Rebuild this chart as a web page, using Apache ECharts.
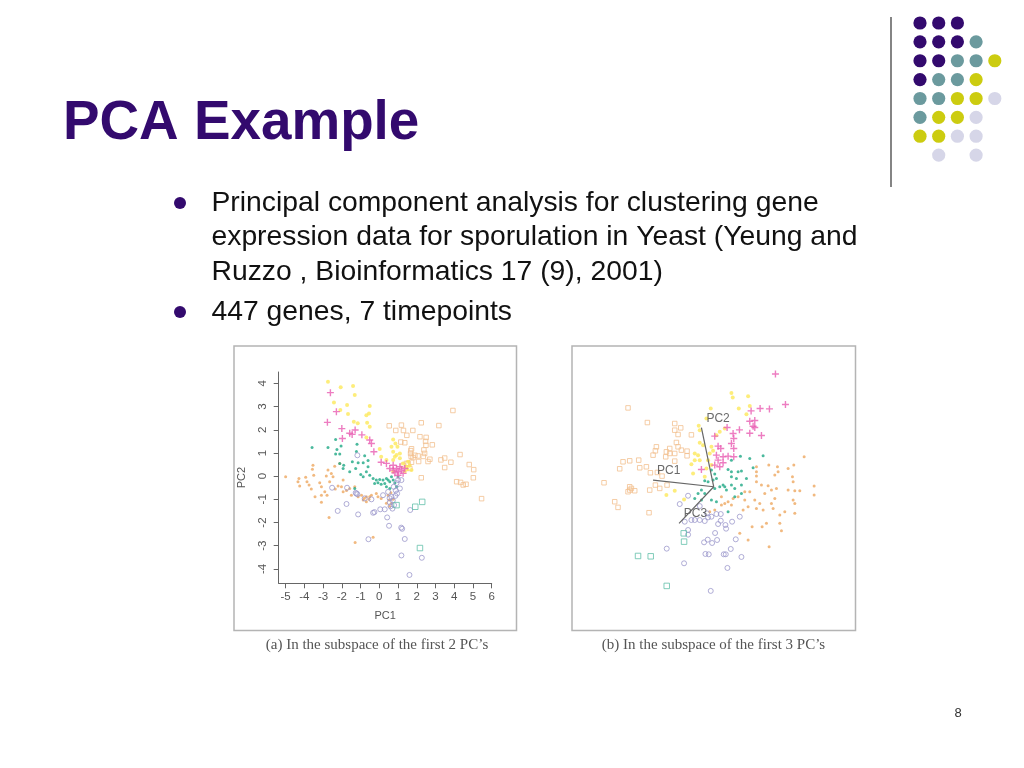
<!DOCTYPE html>
<html><head><meta charset="utf-8">
<style>html,body{margin:0;padding:0;background:#fff}#c{width:1024px;height:768px}</style>
<script src="https://cdn.jsdelivr.net/npm/echarts@6/dist/echarts.min.js"></script>
</head><body><div id="c"></div>
<script>
const titleText = 'PCA Example';
const bulletLines = ['Principal component analysis for clustering gene','expression data for sporulation in Yeast (Yeung and','Ruzzo , Bioinformatics 17 (9), 2001)','447 genes, 7 timepoints'];
const captionA = "(a) In the subspace of the first 2 PC’s";
const captionB = "(b) In the subspace of the first 3 PC’s";
const pageNumber = '8';
const xTicks = [-5,-4,-3,-2,-1,0,1,2,3,4,5,6];
const yTicks = [-4,-3,-2,-1,0,1,2,3,4];

const aTealSquares = [[2.29,-1.11],[1.92,-1.32],[2.17,-3.1],[0.92,-1.25]];
const aPurple = [[-1.22,-0.75],[-1.17,0.9],[-1.75,-1.2],[-2.22,-1.5],[-1.13,-1.65],[-0.33,-1.58],[-0.26,-1.55],[0.05,-1.43],[0.29,-1.43],[0.42,-1.78],[0.52,-2.14],[1.17,-2.22],[1.22,-2.27],[1.36,-2.71],[1.18,-3.42],[2.27,-3.52],[1.61,-4.26],[-0.58,-2.72],[1.65,-1.46],[-2.52,-0.5],[-1.72,-0.5],[-1.26,-0.72],[-1.17,-0.78],[-0.78,-0.96],[-0.42,-1.0],[0.2,-0.82],[0.7,-1.4],[0.79,-1.25],[0.56,-1.13],[0.65,-0.89],[0.86,-0.85],[0.77,-0.46],[1.0,-0.17],[1.1,-0.53],[0.47,-0.68],[0.92,-0.3],[1.18,-0.17],[0.6,-1.3],[0.72,-1.05],[0.88,-0.62],[0.55,-0.95],[0.95,-0.75]];
const aPaleSquares = [[3.93,2.83],[2.24,2.3],[3.18,2.18],[1.18,2.2],[0.53,2.17],[0.88,1.97],[1.29,1.97],[1.79,1.97],[1.47,1.76],[2.17,1.7],[2.5,1.67],[2.47,1.5],[1.15,1.47],[1.36,1.44],[2.49,1.33],[2.83,1.35],[1.72,1.18],[2.38,1.13],[1.67,0.98],[2.42,0.98],[2.07,0.87],[1.8,0.8],[2.7,0.73],[2.6,0.63],[2.1,0.63],[1.72,0.6],[1.54,0.55],[3.29,0.7],[3.49,0.78],[3.82,0.6],[3.49,0.37],[4.31,0.93],[4.8,0.5],[5.04,0.28],[5.02,-0.07],[4.13,-0.24],[4.34,-0.27],[4.48,-0.38],[4.63,-0.35],[5.46,-0.97],[2.24,-0.07],[1.9,0.9],[1.63,0.33],[1.27,0.47],[1.68,1.1],[1.7,0.85],[2.35,0.85],[1.45,0.55]];
const aOrangeDots = [[-5,-0.03],[-4.29,-0.1],[-4.34,-0.24],[-4.25,-0.42],[-3.93,-0.05],[-3.86,-0.24],[-3.75,-0.38],[-3.63,-0.55],[-3.54,0.47],[-3.57,0.3],[-3.5,0.04],[-3.18,-0.29],[-3.09,-0.46],[-3.43,-0.89],[-3.09,-0.82],[-3.09,-1.13],[-2.91,-0.67],[-2.79,-0.82],[-2.68,-1.78],[-2.74,0.26],[-2.56,0.11],[-2.38,0.43],[-2.11,0.55],[-2.47,-0.03],[-2.2,-0.42],[-2.02,-0.46],[-1.93,-0.67],[-1.58,-0.53],[-1.31,-0.46],[-0.95,-0.82],[-0.69,-0.89],[-0.86,-1.03],[-0.51,-0.89],[-0.16,-0.75],[0.1,-0.96],[-1.29,-2.86],[-0.33,-2.63],[-1.93,-0.17],[-2.65,-0.24],[-2.83,0.01],[-1.49,-0.82],[-1.13,-0.89],[-0.69,-1.1],[0.52,-1.03],[0.65,-1.17],[0.38,-1.17],[0.74,-1.0],[0.47,-0.82],[-0.07,-0.89],[-0.42,-0.82],[-1.75,-0.62],[-2.35,-0.55],[-0.8,-0.95],[-0.55,-1.0],[0.55,-1.3],[0.62,-0.72]];
const aGreenDots = [[-3.59,1.23],[-2.33,1.58],[-2.74,1.24],[-2.04,1.3],[-2.26,1.15],[-2.33,0.95],[-2.11,0.95],[-1.19,1.38],[-1.22,1.06],[-0.78,0.88],[-2.11,0.55],[-1.9,0.47],[-1.44,0.62],[-1.13,0.58],[-0.86,0.58],[-0.6,0.67],[-1.93,0.33],[-0.6,0.4],[-0.99,0.07],[-1.31,-0.53],[-0.33,-0.1],[-0.16,-0.17],[0.02,-0.14],[0.2,-0.17],[0.38,-0.1],[0.56,-0.24],[-0.25,-0.32],[-0.07,-0.29],[0.1,-0.35],[0.29,-0.32],[0.47,-0.17],[0.74,-0.17],[0.83,-0.3],[0.38,-0.46],[0.65,-0.03],[-0.69,0.19],[-0.51,0.04],[-0.86,-0.03],[-1.26,0.33],[-1.58,0.19],[0.56,-0.53],[0.92,-0.46],[1.0,-0.03]];
const aYellow = [[-2.74,4.07],[-2.06,3.83],[-1.4,3.89],[-1.31,3.5],[-2.42,3.17],[-1.72,3.07],[-2.08,2.85],[-1.67,2.68],[-0.51,3.02],[-0.55,2.7],[-0.69,2.63],[-1.36,2.35],[-1.15,2.28],[-0.65,2.3],[-0.51,2.13],[-0.69,1.67],[0.02,1.17],[0.74,1.58],[0.86,1.41],[0.65,1.27],[0.97,1.27],[0.74,1.05],[0.83,0.84],[0.74,0.7],[1.1,0.77],[0.92,0.91],[1.27,0.55],[1.45,0.41],[1.72,0.26],[1.54,0.62],[0.74,0.2],[0.38,0.7],[1.1,0.98],[1.36,0.2],[0.1,0.84],[1.5,0.3],[1.62,0.45]];
const aMagenta = [[-2.61,3.6],[-2.29,2.78],[-2.77,2.32],[-2.0,2.05],[-1.97,1.62],[-1.58,1.85],[-1.45,1.8],[-1.29,1.99],[-0.93,1.78],[-0.51,1.56],[-0.42,1.41],[-0.29,1.05],[0.1,0.6],[0.74,0.47],[0.92,0.33],[1.0,0.19],[1.18,0.26],[1.1,0.41],[0.83,0.14],[0.74,0.26],[1.27,0.12],[1,0.04],[0.56,0.33],[0.38,0.55],[1.36,0.33]];

const bTealSquares = [[-4.54,-4.16],[-3.78,-4.18],[-2.82,-5.96],[-1.78,-3.3],[-1.8,-2.8]];
const bPurple = [[-0.18,-6.26],[-1.78,-4.6],[-2.82,-3.72],[0.82,-4.88],[1.66,-4.22],[0.6,-4.06],[0.72,-4.06],[-0.5,-4.04],[-0.3,-4.06],[1.02,-3.74],[1.32,-3.16],[-0.58,-3.34],[-0.36,-3.18],[-0.1,-3.38],[0.2,-3.2],[0.08,-2.78],[-1.54,-2.6],[-1.54,-2.88],[0.74,-2.52],[0.7,-2.3],[0.26,-2.24],[0.42,-2.04],[-1.34,-2.0],[-1.14,-2],[-0.84,-2],[-0.54,-2.06],[-0.34,-1.84],[-0.14,-1.8],[0.16,-1.64],[0.42,-1.64],[-2.04,-1.04],[-1.54,-0.54],[-1.74,-2.1],[-0.84,-1.16],[-0.4,-1.6],[1.56,-1.8],[1.1,-2.1]];
const bPaleSquares = [[-5.14,4.74],[-3.98,3.86],[-2.34,3.8],[-1.98,3.54],[-2.34,3.4],[-2.14,3.14],[-1.34,3.12],[-2.24,2.66],[-2.14,2.4],[-3.44,2.4],[-3.5,2.16],[-3.64,1.9],[-2.64,2.3],[-2.84,2.1],[-2.64,2],[-2.88,1.8],[-1.94,2.2],[-1.6,2.14],[-1.6,1.86],[-2.34,2],[-2.34,1.54],[-5.44,1.5],[-5.04,1.56],[-4.5,1.6],[-5.64,1.08],[-4.44,1.14],[-4.04,1.2],[-3.8,0.84],[-3.38,0.86],[-3.1,0.64],[-6.58,0.24],[-5.04,0],[-4.94,-0.1],[-5.14,-0.3],[-4.74,-0.24],[-5.04,-0.2],[-3.84,-0.2],[-3.5,0.1],[-3.24,-0.1],[-2.8,0.1],[-5.94,-0.9],[-5.74,-1.24],[-3.88,-1.56]];
const bOrangeDots = [[5.42,1.8],[3.3,1.3],[3.82,1.2],[4.46,1.1],[4.8,1.3],[2.56,1.2],[2.56,0.9],[3.86,0.9],[2.56,0.64],[3.66,0.7],[4.72,0.6],[4.76,0.3],[2.56,0.3],[2.86,0.1],[3.26,0.06],[3.76,-0.1],[6.02,0.04],[6.02,-0.5],[4.46,-0.2],[4.86,-0.24],[5.16,-0.24],[3.46,-0.2],[3.06,-0.4],[3.66,-0.7],[4.76,-0.8],[4.86,-1],[4.86,-1.6],[4.26,-1.5],[3.96,-1.7],[3.96,-2.2],[4.06,-2.64],[3.16,-2.2],[2.9,-2.4],[2.3,-2.4],[2.06,-3.2],[3.32,-3.6],[1.56,-2.8],[2.46,-0.8],[2.76,-1],[2.56,-1.3],[2.06,-1.2],[1.86,-0.8],[1.46,-0.6],[1.16,-0.7],[0.86,-0.9],[1.06,-1.1],[2.16,-0.3],[1.86,-0.3],[3.46,-1],[2.96,-1.4],[3.56,-1.3],[0.46,-0.6],[0.66,-1],[0.06,-1.4],[-0.24,-1.5],[1.76,-1.4],[0.46,-1.1]];
const bGreenDots = [[2.96,1.86],[2.16,1.7],[1.6,1.84],[2.36,1.14],[1.46,0.9],[1.66,0.94],[1.06,1.6],[0.86,1.04],[1.06,0.6],[1.36,0.5],[1.96,0.5],[1.66,0.1],[1.06,0.1],[0.66,0],[0.36,0],[0.06,-0.1],[-0.34,0.3],[-0.04,0.4],[-0.54,0.36],[0.16,0.5],[-0.74,-0.2],[-0.94,-0.4],[-0.54,-0.4],[-1.14,-0.7],[-0.14,-0.8],[0.16,-0.9],[0.86,-1.5],[1.26,-0.6],[1.66,-0.4],[0.56,0.1],[0.76,-0.2],[1.26,-0.1],[-0.74,-0.8],[-0.14,1],[0.06,0.76],[1.06,0.9]];
const bYellow = [[1.06,5.64],[2.06,5.44],[1.14,5.36],[2.16,4.86],[1.5,4.7],[1.96,4.36],[-0.18,4.7],[-0.44,4.1],[-0.9,3.66],[-0.84,3.4],[0.66,3.5],[0.36,3.3],[0.16,3.1],[-0.84,2.64],[-0.64,2.5],[-0.14,2.4],[-0.04,2.16],[-0.24,2],[-1.14,2],[-0.94,1.9],[-1.14,1.6],[-0.84,1.6],[-1.34,1.36],[-0.34,1.6],[-1.24,0.8],[-0.44,1.1],[-0.14,1.3],[-2.34,-0.24],[-2.84,-0.5],[-1.78,-0.76],[-0.54,0.6]];
const bMagenta = [[3.7,6.78],[4.3,4.94],[2.78,4.7],[3.34,4.68],[2.24,4.56],[2.16,3.94],[2.46,3.98],[2.36,3.64],[2.46,3.56],[1.54,3.42],[2.16,3.22],[2.86,3.08],[1.16,3.2],[1.2,2.9],[0.8,3.56],[0.06,3.04],[1.06,2.6],[1.2,2.3],[0.26,2.44],[0.42,2.3],[0.16,1.9],[0.56,1.8],[0.86,1.84],[1.2,1.8],[0.26,1.6],[0.56,1.44],[0.36,1.2],[0.06,1.3],[-0.74,1.04]];

const pcVectors = [[[0,0],[-3.64,0.4]],[[0,0],[-0.74,3.56]],[[0,0],[-2.08,-2.2]]];
const pcLabels = [[-2.7,0.96,'PC1'],[0.26,4.12,'PC2'],[-1.1,-1.6,'PC3']];

const dotRows = ['PPP','PPPT','PPTTY','PTTY','TTYYL','TYYL','YYLL',' L L'];
const dotColours = {P:'#330a6e',T:'#6b9a9e',Y:'#cccc10',L:'#d6d6e8'};

const plus = 'path://M4 0H6V4H10V6H6V10H4V6H0V4H4Z';
function pts(name, data, idx, symbol, size, style){
  return {name, type:'scatter', xAxisIndex:idx, yAxisIndex:idx, data, symbol, symbolSize:size, itemStyle:style, silent:true, animation:false};
}
const hollow = c => ({color:'rgba(255,255,255,0)', borderColor:c, borderWidth:1});
const fill = c => ({color:c});
const cols = {pale:'#f2c090',teal:'#63c0aa',purple:'#9c98cc',orange:'#eda860',green:'#1ea884',yellow:'#fde95a',mag:'#e85cb2'};
function layer(idx, d){
  return [
    pts('pale squares', d[0], idx, 'rect', 4.5, hollow(cols.pale)),
    pts('orange dots', d[1], idx, 'circle', 3, fill(cols.orange)),
    pts('yellow', d[2], idx, 'circle', 4, fill(cols.yellow)),
    pts('green dots', d[3], idx, 'circle', 3, fill(cols.green)),
    pts('magenta', d[4], idx, plus, 7, fill(cols.mag)),
    pts('purple', d[5], idx, 'circle', 5, hollow(cols.purple)),
    pts('teal squares', d[6], idx, 'rect', 5.5, hollow(cols.teal))
  ];
}
const txt = (x,y,text,font,fill,extra) => ({type:'text',x,y,silent:true,style:Object.assign({text,font,fill,textVerticalAlign:'middle'},extra||{})});
const bodyFont = '28.3px "Liberation Sans"';
const graphics = [
  txt(63,124,titleText,'bold 54.8px "Liberation Sans"','#330a6e'),
  txt(211.5,203,bulletLines[0],bodyFont,'#111'),
  txt(211.5,237,bulletLines[1],bodyFont,'#111'),
  txt(211.5,272,bulletLines[2],bodyFont,'#111'),
  txt(211.5,312,bulletLines[3],bodyFont,'#111'),
  {type:'circle',silent:true,shape:{cx:180,cy:203,r:6},style:{fill:'#330a6e'}},
  {type:'circle',silent:true,shape:{cx:180,cy:312,r:6},style:{fill:'#330a6e'}},
  {type:'line',silent:true,shape:{x1:891,y1:17,x2:891,y2:187},style:{stroke:'#333',lineWidth:1.2}},
  {type:'rect',silent:true,shape:{x:234,y:346,width:282.5,height:284.5},style:{fill:'none',stroke:'#b4b4b4',lineWidth:1.5}},
  {type:'rect',silent:true,shape:{x:572,y:346,width:283.5,height:284.5},style:{fill:'none',stroke:'#b4b4b4',lineWidth:1.5}},
  txt(377,645,captionA,'15px "Liberation Serif"','#555',{textAlign:'center'}),
  txt(713.5,645,captionB,'15px "Liberation Serif"','#555',{textAlign:'center'}),
  txt(958,713,pageNumber,'13px "Liberation Sans"','#333',{textAlign:'center'})
];
dotRows.forEach((row,r)=>row.split('').forEach((k,c)=>{
  if(k===' ')return;
  graphics.push({type:'circle',silent:true,shape:{cx:920+c*18.7,cy:23+r*18.87,r:6.6},style:{fill:dotColours[k]}});
}));

const axisGray='#666';
const chart = echarts.init(document.getElementById('c'),null,{renderer:'canvas'});
chart.setOption({
  animation:false,
  backgroundColor:'#fff',
  graphic:graphics,
  grid:[
    {left:278.7,top:372,width:213,height:211.3},
    {left:572,top:346,width:283.5,height:284.5}
  ],
  xAxis:[
    {gridIndex:0,type:'value',min:-5.37,max:6,name:'PC1',nameLocation:'middle',nameGap:27,
     nameTextStyle:{color:'#555',fontSize:11,fontFamily:'Liberation Sans'},
     splitLine:{show:false},axisLine:{onZero:false,lineStyle:{color:axisGray}},
     axisTick:{length:5,customValues:xTicks,lineStyle:{color:axisGray}},
     axisLabel:{customValues:xTicks,color:'#555',fontSize:11.5,margin:8,fontFamily:'Liberation Sans'}},
    {gridIndex:1,type:'value',min:-8.5,max:8.5,show:false}
  ],
  yAxis:[
    {gridIndex:0,type:'value',min:-4.62,max:4.49,name:'PC2',nameLocation:'middle',nameGap:31,
     nameTextStyle:{color:'#555',fontSize:11,fontFamily:'Liberation Sans'},
     splitLine:{show:false},axisLine:{onZero:false,lineStyle:{color:axisGray}},
     axisTick:{length:5,customValues:yTicks,lineStyle:{color:axisGray}},
     axisLabel:{customValues:yTicks,rotate:90,color:'#555',fontSize:11.5,margin:10,fontFamily:'Liberation Sans'}},
    {gridIndex:1,type:'value',min:-8.64,max:8.46,show:false}
  ],
  series:[
    ...layer(0,[aPaleSquares,aOrangeDots,aYellow,aGreenDots,aMagenta,aPurple,aTealSquares]),
    ...layer(1,[bPaleSquares,bOrangeDots,bYellow,bGreenDots,bMagenta,bPurple,bTealSquares]),
    ...pcVectors.map((v,i)=>({name:'vector '+(i+1),type:'line',xAxisIndex:1,yAxisIndex:1,data:v,symbol:'none',silent:true,
      lineStyle:{color:'#666',width:1.2},animation:false})),
    {name:'vector labels',type:'scatter',xAxisIndex:1,yAxisIndex:1,data:pcLabels,symbolSize:0,silent:true,
     label:{show:true,position:'inside',formatter:p=>p.value[2],color:'#444',fontSize:12,fontFamily:'Liberation Sans'}}
  ]
});
</script></body></html>
